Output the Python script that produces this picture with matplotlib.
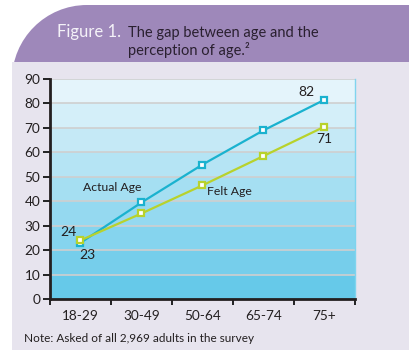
import numpy as np
import matplotlib.pyplot as plt
from matplotlib.path import Path
from matplotlib.patches import PathPatch, Rectangle
from matplotlib.colors import to_rgb

plt.rcParams['font.family'] = ['Lato', 'DejaVu Sans']

age_groups = ["18-29", "30-49", "50-64", "65-74", "75+"]
actual_age = [23, 39.5, 55, 69, 81.5]
felt_age = [24, 35, 46.5, 58.5, 70.5]
y_ticks = [0, 10, 20, 30, 40, 50, 60, 70, 80, 90]

W, H = 410, 355
fig = plt.figure(figsize=(W / 100, H / 100), dpi=100)

# background panel in pixel coords
bg = fig.add_axes([0, 0, 1, 1])
bg.set_xlim(0, W)
bg.set_ylim(H, 0)
bg.axis("off")

r = 75
x0, y0, x1, y1 = 12, 5, 415, 350
k = 0.5523
verts = [(x0, y1), (x0, y0 + r),
         (x0, y0 + r - k * r), (x0 + r - k * r, y0), (x0 + r, y0),
         (x1, y0), (x1, y1), (x0, y1)]
codes = [Path.MOVETO, Path.LINETO, Path.CURVE4, Path.CURVE4, Path.CURVE4,
         Path.LINETO, Path.LINETO, Path.CLOSEPOLY]
bg.add_patch(PathPatch(Path(verts, codes), facecolor="#9e88ba", edgecolor="none"))
bg.add_patch(Rectangle((x0, 62), x1 - x0, y1 - 62, facecolor="#e7e4ee", edgecolor="none"))

bg.text(57, 37, "Figure 1.", fontsize=12, color="#f4f2f8", va="baseline", ha="left")
bg.text(128, 37, "The gap between age and the", fontsize=10.5, color="#2a2030", va="baseline")
bg.text(128, 55, "perception of age.\u00b2", fontsize=10.5, color="#2a2030", va="baseline")
bg.text(24, 342, "Note: Asked of all 2,969 adults in the survey", fontsize=8.5,
        color="#231f20", va="baseline")

# chart axes
ax = fig.add_axes([50 / W, 1 - 299 / H, (355 - 50) / W, (299 - 79) / H])
ax.set_xlim(-0.5, 4.5)
ax.set_ylim(0, 90)

top_c = np.array(to_rgb("#ecf7fc"))
bot_c = np.array(to_rgb("#5ec6e8"))
for i in range(9):
    t = (i + 0.5) / 9
    c = bot_c * (1 - t) + top_c * t
    ax.axhspan(i * 10, i * 10 + 10, facecolor=c, edgecolor="none", zorder=0)
for yv in y_ticks[1:]:
    ax.axhline(yv, color="#cfcfcf", lw=1.2, zorder=1)

x = np.arange(len(age_groups))
ax.plot(x, actual_age, color="#1ab2cf", lw=1.6, marker="s", ms=5,
        mfc="white", mec="#1ab2cf", mew=1.6, zorder=3)
ax.plot(x, felt_age, color="#b8d22c", lw=1.6, marker="s", ms=5,
        mfc="white", mec="#b8d22c", mew=1.6, zorder=4)

ax.text(0.04, 45.5, "Actual Age", fontsize=8.8, color="#231f20", ha="left", va="center")
ax.text(2.08, 44, "Felt Age", fontsize=8.8, color="#231f20", ha="left", va="center")
ax.text(-0.2, 27.5, "24", fontsize=10, color="#231f20", ha="center", va="center")
ax.text(0.12, 18, "23", fontsize=10, color="#231f20", ha="center", va="center")
ax.text(3.7, 84.5, "82", fontsize=10, color="#231f20", ha="center", va="center")
ax.text(4.0, 65.5, "71", fontsize=10, color="#231f20", ha="center", va="center")

ax.set_yticks(y_ticks)
ax.set_yticklabels([str(v) for v in y_ticks], fontsize=9.8, color="#231f20")
ax.set_xticks(x)
ax.set_xticklabels(age_groups, fontsize=9.8, color="#231f20")
ax.set_xticks(np.arange(-0.5, 5, 1), minor=True)
ax.tick_params(axis="x", which="major", length=0, pad=8)
ax.tick_params(axis="x", which="minor", length=4, width=1.2, direction="out")
ax.tick_params(axis="y", length=5, width=1.2, direction="out", pad=2)

for s in ["left", "bottom"]:
    ax.spines[s].set_linewidth(2)
    ax.spines[s].set_color("#231f20")
ax.spines["top"].set_visible(False)
ax.spines["right"].set_color("#7fd4ee")
ax.spines["right"].set_linewidth(1)

fig.savefig("out.png", dpi=100)
